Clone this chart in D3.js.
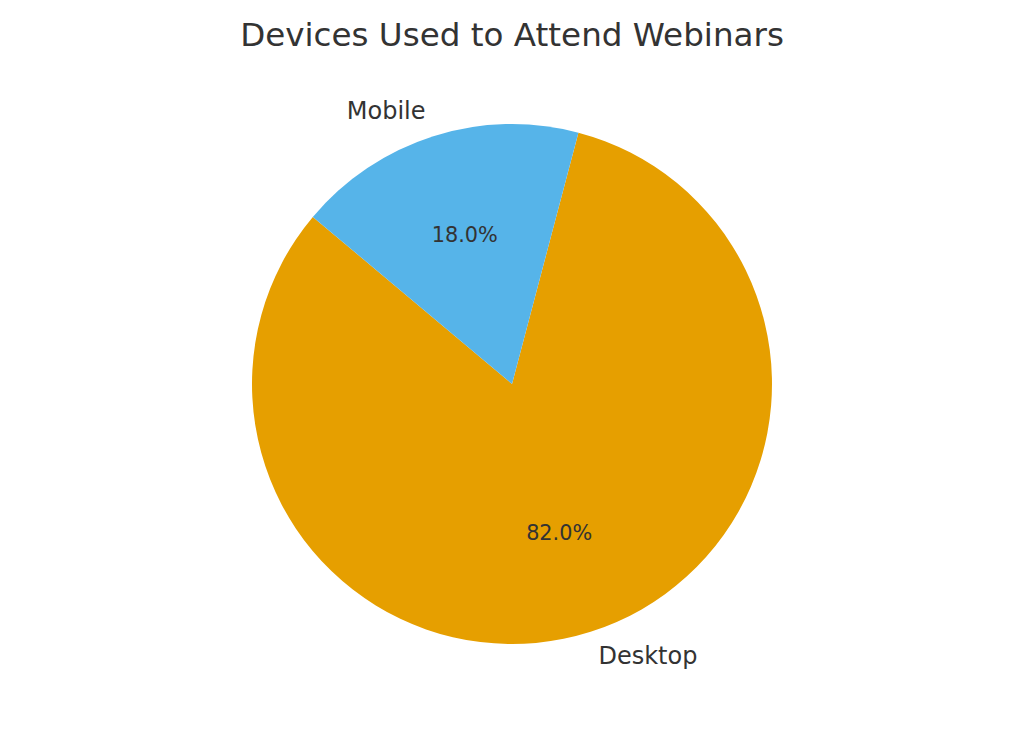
<!DOCTYPE html>
<html>
<head>
  <meta charset="utf-8">
  <script src="https://d3js.org/d3.v7.min.js"></script>
  <style>
    body { margin: 0; background: #fff; }
    text { font-family: "DejaVu Sans", sans-serif; fill: #333; }
    .title { font-size: 32.6px; text-anchor: middle; }
    .label { font-size: 24px; }
    .pct { font-size: 20.8px; text-anchor: middle; }
  </style>
</head>
<body>
  <script>

    // Data
    var categories = ["Desktop", "Mobile"];
    var values = [82, 18];
    var colors = ["#E69F00", "#56B4E9"];

    var width = 1024, height = 731;
    var cx = 512, cy = 384, radius = 260;
    var startAngle = 140; // degrees, counter-clockwise from 3 o'clock

    var svg = d3.select("body").append("svg")
        .attr("width", width)
        .attr("height", height);

    svg.append("text")
        .attr("class", "title")
        .attr("x", width / 2)
        .attr("y", 46)
        .text("Devices Used to Attend Webinars");

    var data = categories.map(function(c, i) { return {name: c, value: values[i], color: colors[i]}; });

    // d3 angles go clockwise from 12 o'clock; convert matplotlib's counter-clockwise
    var start = (90 - startAngle) * Math.PI / 180;
    var pie = d3.pie()
        .value(function(d) { return d.value; })
        .sort(null)
        .startAngle(start)
        .endAngle(start - 2 * Math.PI);

    var arc = d3.arc().innerRadius(0).outerRadius(radius);

    var g = svg.append("g")
        .attr("transform", "translate(" + cx + "," + cy + ")");

    var arcs = pie(data);

    g.selectAll("path")
        .data(arcs)
      .enter().append("path")
        .attr("d", arc)
        .attr("fill", function(d) { return d.data.color; });

    var total = d3.sum(values);

    function mid(d) { return (d.startAngle + d.endAngle) / 2; }

    // category labels at 1.1 r
    g.selectAll(".label")
        .data(arcs)
      .enter().append("text")
        .attr("class", "label")
        .attr("x", function(d) { return 1.1 * radius * Math.sin(mid(d)); })
        .attr("y", function(d) { return -1.1 * radius * Math.cos(mid(d)); })
        .attr("dy", "0.3em")
        .attr("text-anchor", function(d) { return Math.sin(mid(d)) < 0 ? "end" : "start"; })
        .text(function(d) { return d.data.name; });

    // percentage labels at 0.6 r
    g.selectAll(".pct")
        .data(arcs)
      .enter().append("text")
        .attr("class", "pct")
        .attr("x", function(d) { return 0.6 * radius * Math.sin(mid(d)); })
        .attr("y", function(d) { return -0.6 * radius * Math.cos(mid(d)); })
        .attr("dy", "0.33em")
        .text(function(d) { return (100 * d.data.value / total).toFixed(1) + "%"; });

  </script>
</body>
</html>
